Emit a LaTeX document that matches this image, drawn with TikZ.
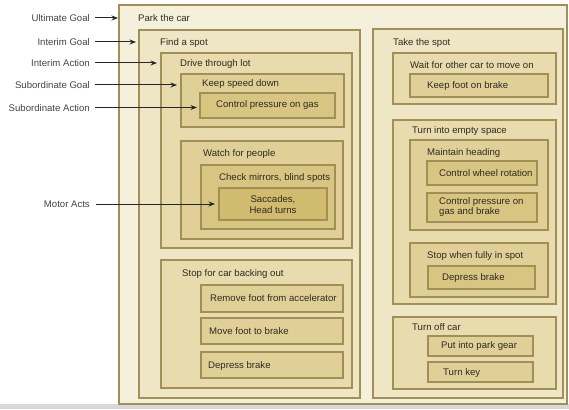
\documentclass[tikz,border=0pt]{standalone}
\usepackage{fontspec}
\setmainfont{Liberation Sans}
\usetikzlibrary{arrows.meta,fit}
\definecolor{cA}{HTML}{F5F0DC}
\definecolor{cB}{HTML}{EFE6C5}
\definecolor{cC}{HTML}{E8DBAE}
\definecolor{cD}{HTML}{E0D098}
\definecolor{cE}{HTML}{D8C582}
\definecolor{cF}{HTML}{D0BB6E}
\definecolor{bord}{HTML}{A09055}
\definecolor{txt}{HTML}{2E2A1E}
\definecolor{lab}{HTML}{444444}
\tikzset{
  box/.style={draw=bord, line width=1.1pt, inner sep=0pt, rectangle},
  ttl/.style={anchor=base west, inner sep=0pt, text=txt, font=\fontsize{9.6}{11}\selectfont},
  mtl/.style={inner sep=0pt, text=txt, font=\fontsize{9.6}{11}\selectfont},
  lbl/.style={anchor=base east, inner sep=0pt, text=lab, font=\fontsize{9.6}{11}\selectfont},
  arr/.style={line width=1pt, draw=black!85, -{Stealth[length=6.5pt,width=5pt]}}
}
\newcommand{\bx}[6]{\node[box, fill=#6, fit={(#2,#3) (#4,#5)}] (#1) {};}
\begin{document}
\begin{tikzpicture}[x=1pt,y=-1pt]
\useasboundingbox (0,0) rectangle (569,409);
\fill[white] (0,0) rectangle (569,409);
\fill[black!15] (0,404) rectangle (569,409);
% boxes
\bx{park}{119}{5}{567}{404}{cA}
\bx{find}{139}{30}{360}{398}{cB}
\bx{drive}{161}{53}{352}{248}{cC}
\bx{keep}{181}{74}{344}{127}{cD}
\bx{ctrlgas}{200}{93}{335}{118}{cE}
\bx{watch}{181}{141}{343}{239}{cD}
\bx{check}{201}{165}{335}{229}{cE}
\bx{sacc}{219}{188}{327}{220}{cF}
\bx{stopcar}{161}{260}{352}{388}{cC}
\bx{remove}{201}{285}{343}{312}{cD}
\bx{move}{201}{318}{343}{344}{cD}
\bx{depress}{201}{352}{343}{378}{cD}
\bx{take}{373}{29}{563}{398}{cB}
\bx{wait}{393}{53}{556}{104}{cC}
\bx{keepfoot}{410}{74}{548}{97}{cD}
\bx{turn}{393}{120}{556}{304}{cC}
\bx{maintain}{410}{140}{548}{230}{cD}
\bx{wheel}{427}{161}{537}{185}{cE}
\bx{pressure}{427}{193}{537}{222}{cE}
\bx{stopwhen}{410}{243}{548}{297}{cD}
\bx{depressb}{428}{266}{535}{289}{cE}
\bx{turnoff}{393}{317}{556}{389}{cC}
\bx{gear}{428}{336}{533}{356}{cD}
\bx{key}{428}{362}{533}{382}{cD}
% titles
\node[ttl] (tpark) at (138,21.5) {Park the car};
\node[ttl] (tfind) at (160,45.5) {Find a spot};
\node[ttl] (tdrive) at (180,66.5) {Drive through lot};
\node[ttl] (tkeep) at (202,86.5) {Keep speed down};
\node[ttl] (tctrlgas) at (216,107.5) {Control pressure on gas};
\node[ttl] (twatch) at (203,156.5) {Watch for people};
\node[ttl] (tcheck) at (219,180.5) {Check mirrors, blind spots};
\node[mtl, align=center, font=\fontsize{9.6}{11.7}\selectfont] (tsacc) at (273,204.5) {Saccades,\\Head turns};
\node[ttl] (tstopcar) at (182,276.5) {Stop for car backing out};
\node[ttl] (tremove) at (210,301.5) {Remove foot from accelerator};
\node[ttl] (tmove) at (209,334.5) {Move foot to brake};
\node[ttl] (tdepress) at (208,368.5) {Depress brake};
\node[ttl] (ttake) at (393,45.5) {Take the spot};
\node[ttl] (twait) at (410,68.5) {Wait for other car to move on};
\node[ttl] (tkeepfoot) at (427,88.5) {Keep foot on brake};
\node[ttl] (tturn) at (412,133.5) {Turn into empty space};
\node[ttl] (tmaintain) at (427,155.5) {Maintain heading};
\node[ttl] (twheel) at (439,176.5) {Control wheel rotation};
\node[mtl, anchor=west, align=left, font=\fontsize{9.6}{10.5}\selectfont] (tpressure) at (439,207) {Control pressure on\\gas and brake};
\node[ttl] (tstopwhen) at (427,258.5) {Stop when fully in spot};
\node[ttl] (tdepressb) at (442,280.5) {Depress brake};
\node[ttl] (tturnoff) at (412,330.5) {Turn off car};
\node[ttl] (tgear) at (441,348.5) {Put into park gear};
\node[ttl] (tkey) at (443,375.5) {Turn key};
% labels
\node[lbl] (l1) at (90,21.5) {Ultimate Goal};
\node[lbl] (l2) at (90,45.5) {Interim Goal};
\node[lbl] (l3) at (90,66.5) {Interim Action};
\node[lbl] (l4) at (90,88.5) {Subordinate Goal};
\node[lbl] (l5) at (90,111) {Subordinate Action};
\node[lbl] (l6) at (90,207.5) {Motor Acts};
% arrows
\coordinate (a1) at (118,18);
\coordinate (a2) at (136,42);
\coordinate (a3) at (157,63);
\coordinate (a4) at (177,85);
\coordinate (a5) at (197,107.5);
\coordinate (a6) at (215,204);
\draw[arr] (95,18) -- (a1);
\draw[arr] (95,42) -- (a2);
\draw[arr] (95,63) -- (a3);
\draw[arr] (95,85) -- (a4);
\draw[arr] (95,107.5) -- (a5);
\draw[arr] (96,204) -- (a6);
\end{tikzpicture}
\end{document}
